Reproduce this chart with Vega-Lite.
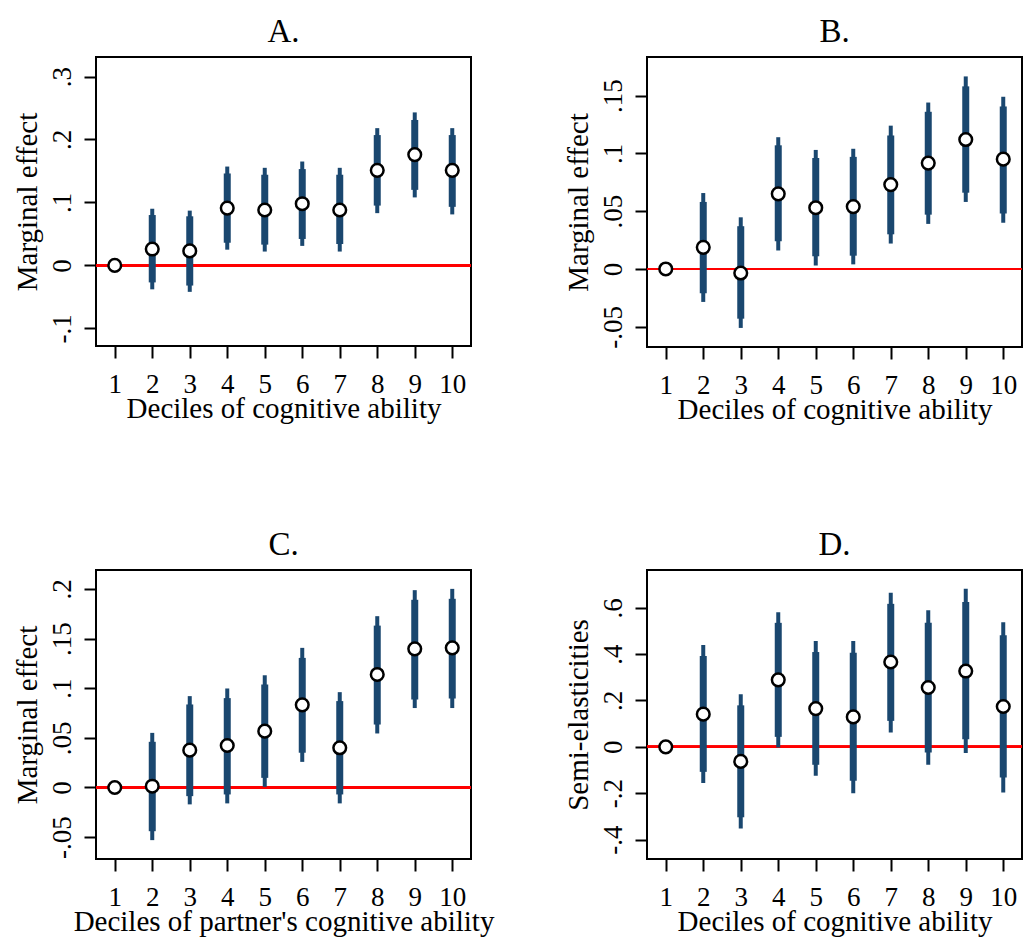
{
  "$schema": "https://vega.github.io/schema/vega-lite/v6.json",
  "background": "white",
  "padding": {"left": 12, "top": 15, "right": 0, "bottom": 0},
  "columns": 2,
  "spacing": {"row": 103, "column": 68},
  "config": {
    "font": "Liberation Serif",
    "view": {"stroke": "black", "strokeWidth": 2},
    "axis": {"grid": false, "domain": false, "tickColor": "black", "tickWidth": 2, "tickSize": 12,
      "labelFont": "Liberation Serif", "labelFontSize": 27, "labelColor": "black",
      "labelOverlap": false, "labelFlush": false,
      "titleFont": "Liberation Serif", "titleFontSize": 29, "titleFontWeight": "normal", "titleColor": "black"},
    "axisX": {"labelPadding": 13, "titlePadding": -3},
    "axisY": {"labelAngle": -90, "labelPadding": 8, "titlePadding": 6},
    "title": {"font": "Liberation Serif", "fontSize": 33, "fontWeight": "normal", "color": "black", "offset": 8}
  },
  "data": {"values": [
    {"panel": "A", "d": 1, "est": 0, "lo95": 0, "hi95": 0, "lo90": 0, "hi90": 0},
    {"panel": "A", "d": 2, "est": 0.026, "lo95": -0.038, "hi95": 0.090, "lo90": -0.027, "hi90": 0.080},
    {"panel": "A", "d": 3, "est": 0.023, "lo95": -0.042, "hi95": 0.087, "lo90": -0.032, "hi90": 0.078},
    {"panel": "A", "d": 4, "est": 0.091, "lo95": 0.025, "hi95": 0.157, "lo90": 0.036, "hi90": 0.146},
    {"panel": "A", "d": 5, "est": 0.088, "lo95": 0.022, "hi95": 0.155, "lo90": 0.033, "hi90": 0.144},
    {"panel": "A", "d": 6, "est": 0.098, "lo95": 0.031, "hi95": 0.165, "lo90": 0.042, "hi90": 0.153},
    {"panel": "A", "d": 7, "est": 0.088, "lo95": 0.022, "hi95": 0.155, "lo90": 0.034, "hi90": 0.144},
    {"panel": "A", "d": 8, "est": 0.151, "lo95": 0.083, "hi95": 0.218, "lo90": 0.095, "hi90": 0.207},
    {"panel": "A", "d": 9, "est": 0.176, "lo95": 0.108, "hi95": 0.243, "lo90": 0.120, "hi90": 0.231},
    {"panel": "A", "d": 10, "est": 0.151, "lo95": 0.081, "hi95": 0.218, "lo90": 0.093, "hi90": 0.207},
    {"panel": "B", "d": 1, "est": 0, "lo95": 0, "hi95": 0, "lo90": 0, "hi90": 0},
    {"panel": "B", "d": 2, "est": 0.0187, "lo95": -0.0285, "hi95": 0.0657, "lo90": -0.021, "hi90": 0.058},
    {"panel": "B", "d": 3, "est": -0.0035, "lo95": -0.051, "hi95": 0.0447, "lo90": -0.043, "hi90": 0.037},
    {"panel": "B", "d": 4, "est": 0.065, "lo95": 0.016, "hi95": 0.114, "lo90": 0.024, "hi90": 0.107},
    {"panel": "B", "d": 5, "est": 0.053, "lo95": 0.003, "hi95": 0.103, "lo90": 0.011, "hi90": 0.096},
    {"panel": "B", "d": 6, "est": 0.054, "lo95": 0.004, "hi95": 0.104, "lo90": 0.0115, "hi90": 0.097},
    {"panel": "B", "d": 7, "est": 0.073, "lo95": 0.022, "hi95": 0.124, "lo90": 0.030, "hi90": 0.1155},
    {"panel": "B", "d": 8, "est": 0.0916, "lo95": 0.039, "hi95": 0.144, "lo90": 0.047, "hi90": 0.136},
    {"panel": "B", "d": 9, "est": 0.112, "lo95": 0.058, "hi95": 0.1666, "lo90": 0.066, "hi90": 0.158},
    {"panel": "B", "d": 10, "est": 0.095, "lo95": 0.040, "hi95": 0.149, "lo90": 0.048, "hi90": 0.1406},
    {"panel": "C", "d": 1, "est": 0, "lo95": 0, "hi95": 0, "lo90": 0, "hi90": 0},
    {"panel": "C", "d": 2, "est": 0.0013, "lo95": -0.053, "hi95": 0.055, "lo90": -0.044, "hi90": 0.046},
    {"panel": "C", "d": 3, "est": 0.0376, "lo95": -0.017, "hi95": 0.092, "lo90": -0.0087, "hi90": 0.0836},
    {"panel": "C", "d": 4, "est": 0.0423, "lo95": -0.016, "hi95": 0.0997, "lo90": -0.007, "hi90": 0.090},
    {"panel": "C", "d": 5, "est": 0.0567, "lo95": 0.0007, "hi95": 0.113, "lo90": 0.0097, "hi90": 0.1037},
    {"panel": "C", "d": 6, "est": 0.0832, "lo95": 0.0258, "hi95": 0.1406, "lo90": 0.035, "hi90": 0.1305},
    {"panel": "C", "d": 7, "est": 0.040, "lo95": -0.016, "hi95": 0.096, "lo90": -0.007, "hi90": 0.087},
    {"panel": "C", "d": 8, "est": 0.1138, "lo95": 0.0544, "hi95": 0.1725, "lo90": 0.0634, "hi90": 0.163},
    {"panel": "C", "d": 9, "est": 0.1396, "lo95": 0.080, "hi95": 0.1987, "lo90": 0.0886, "hi90": 0.189},
    {"panel": "C", "d": 10, "est": 0.1406, "lo95": 0.080, "hi95": 0.200, "lo90": 0.0896, "hi90": 0.190},
    {"panel": "D", "d": 1, "est": 0, "lo95": 0, "hi95": 0, "lo90": 0, "hi90": 0},
    {"panel": "D", "d": 2, "est": 0.141, "lo95": -0.156, "hi95": 0.439, "lo90": -0.108, "hi90": 0.392},
    {"panel": "D", "d": 3, "est": -0.063, "lo95": -0.352, "hi95": 0.227, "lo90": -0.304, "hi90": 0.179},
    {"panel": "D", "d": 4, "est": 0.289, "lo95": -0.003, "hi95": 0.581, "lo90": 0.043, "hi90": 0.535},
    {"panel": "D", "d": 5, "est": 0.165, "lo95": -0.125, "hi95": 0.457, "lo90": -0.0775, "hi90": 0.409},
    {"panel": "D", "d": 6, "est": 0.129, "lo95": -0.2, "hi95": 0.457, "lo90": -0.146, "hi90": 0.406},
    {"panel": "D", "d": 7, "est": 0.366, "lo95": 0.062, "hi95": 0.665, "lo90": 0.112, "hi90": 0.617},
    {"panel": "D", "d": 8, "est": 0.256, "lo95": -0.0775, "hi95": 0.589, "lo90": -0.024, "hi90": 0.535},
    {"panel": "D", "d": 9, "est": 0.327, "lo95": -0.027, "hi95": 0.682, "lo90": 0.033, "hi90": 0.625},
    {"panel": "D", "d": 10, "est": 0.174, "lo95": -0.197, "hi95": 0.538, "lo90": -0.132, "hi90": 0.481}
  ]},
  "concat": [
    {
      "title": {"text": "A."},
      "width": 375, "height": 289,
      "transform": [{"filter": "datum.panel == 'A'"}],
      "layer": [
        {"mark": {"type": "rule", "color": "#ff0000", "strokeWidth": 2}, "encoding": {"y": {"datum": 0, "type": "quantitative", "title": "Marginal effect"}}},
        {"mark": {"type": "rule", "color": "#1a476f", "strokeWidth": 4},
          "encoding": {
            "x": {"field": "d", "type": "quantitative", "title": "Deciles of cognitive ability", "scale": {"domain": [0.5, 10.5], "nice": false, "zero": false}, "axis": {"values": [1,2,3,4,5,6,7,8,9,10], "format": "d"}},
            "y": {"field": "lo95", "type": "quantitative", "title": "Marginal effect", "scale": {"domain": [-0.128, 0.331], "nice": false, "zero": false}, "axis": {"values": [-0.1, 0, 0.1, 0.2, 0.3], "labelExpr": "datum.value == 0 ? '0' : (datum.value < 0 ? '-' : '') + substring(format(abs(datum.value), '.2~f'), 1)"}},
            "y2": {"field": "hi95"}}},
        {"mark": {"type": "rule", "color": "#1a476f", "strokeWidth": 7},
          "encoding": {
            "x": {"field": "d", "type": "quantitative", "title": "Deciles of cognitive ability"},
            "y": {"field": "lo90", "type": "quantitative", "title": "Marginal effect"},
            "y2": {"field": "hi90"}}},
        {"mark": {"type": "circle", "fill": "white", "stroke": "black", "strokeWidth": 2.5, "size": 160, "opacity": 1},
          "encoding": {
            "x": {"field": "d", "type": "quantitative", "title": "Deciles of cognitive ability"},
            "y": {"field": "est", "type": "quantitative", "title": "Marginal effect"}}}
      ]
    },
    {
      "title": {"text": "B."},
      "width": 375, "height": 290,
      "transform": [{"filter": "datum.panel == 'B'"}],
      "layer": [
        {"mark": {"type": "rule", "color": "#ff0000", "strokeWidth": 2}, "encoding": {"y": {"datum": 0, "type": "quantitative", "title": "Marginal effect"}}},
        {"mark": {"type": "rule", "color": "#1a476f", "strokeWidth": 4},
          "encoding": {
            "x": {"field": "d", "type": "quantitative", "title": "Deciles of cognitive ability", "scale": {"domain": [0.5, 10.5], "nice": false, "zero": false}, "axis": {"values": [1,2,3,4,5,6,7,8,9,10], "format": "d"}},
            "y": {"field": "lo95", "type": "quantitative", "title": "Marginal effect", "scale": {"domain": [-0.0675, 0.1834], "nice": false, "zero": false}, "axis": {"values": [-0.05, 0, 0.05, 0.1, 0.15], "labelExpr": "datum.value == 0 ? '0' : (datum.value < 0 ? '-' : '') + substring(format(abs(datum.value), '.2~f'), 1)"}},
            "y2": {"field": "hi95"}}},
        {"mark": {"type": "rule", "color": "#1a476f", "strokeWidth": 7},
          "encoding": {
            "x": {"field": "d", "type": "quantitative", "title": "Deciles of cognitive ability"},
            "y": {"field": "lo90", "type": "quantitative", "title": "Marginal effect"},
            "y2": {"field": "hi90"}}},
        {"mark": {"type": "circle", "fill": "white", "stroke": "black", "strokeWidth": 2.5, "size": 160, "opacity": 1},
          "encoding": {
            "x": {"field": "d", "type": "quantitative", "title": "Deciles of cognitive ability"},
            "y": {"field": "est", "type": "quantitative", "title": "Marginal effect"}}}
      ]
    },
    {
      "title": {"text": "C."},
      "width": 375, "height": 289,
      "transform": [{"filter": "datum.panel == 'C'"}],
      "layer": [
        {"mark": {"type": "rule", "color": "#ff0000", "strokeWidth": 2}, "encoding": {"y": {"datum": 0, "type": "quantitative", "title": "Marginal effect"}}},
        {"mark": {"type": "rule", "color": "#1a476f", "strokeWidth": 4},
          "encoding": {
            "x": {"field": "d", "type": "quantitative", "title": "Deciles of partner's cognitive ability", "scale": {"domain": [0.5, 10.5], "nice": false, "zero": false}, "axis": {"values": [1,2,3,4,5,6,7,8,9,10], "format": "d"}},
            "y": {"field": "lo95", "type": "quantitative", "title": "Marginal effect", "scale": {"domain": [-0.072, 0.219], "nice": false, "zero": false}, "axis": {"values": [-0.05, 0, 0.05, 0.1, 0.15, 0.2], "labelExpr": "datum.value == 0 ? '0' : (datum.value < 0 ? '-' : '') + substring(format(abs(datum.value), '.2~f'), 1)"}},
            "y2": {"field": "hi95"}}},
        {"mark": {"type": "rule", "color": "#1a476f", "strokeWidth": 7},
          "encoding": {
            "x": {"field": "d", "type": "quantitative", "title": "Deciles of partner's cognitive ability"},
            "y": {"field": "lo90", "type": "quantitative", "title": "Marginal effect"},
            "y2": {"field": "hi90"}}},
        {"mark": {"type": "circle", "fill": "white", "stroke": "black", "strokeWidth": 2.5, "size": 160, "opacity": 1},
          "encoding": {
            "x": {"field": "d", "type": "quantitative", "title": "Deciles of partner's cognitive ability"},
            "y": {"field": "est", "type": "quantitative", "title": "Marginal effect"}}}
      ]
    },
    {
      "title": {"text": "D."},
      "width": 375, "height": 289,
      "transform": [{"filter": "datum.panel == 'D'"}],
      "layer": [
        {"mark": {"type": "rule", "color": "#ff0000", "strokeWidth": 2}, "encoding": {"y": {"datum": 0, "type": "quantitative", "title": "Semi-elasticities"}}},
        {"mark": {"type": "rule", "color": "#1a476f", "strokeWidth": 4},
          "encoding": {
            "x": {"field": "d", "type": "quantitative", "title": "Deciles of cognitive ability", "scale": {"domain": [0.5, 10.5], "nice": false, "zero": false}, "axis": {"values": [1,2,3,4,5,6,7,8,9,10], "format": "d"}},
            "y": {"field": "lo95", "type": "quantitative", "title": "Semi-elasticities", "scale": {"domain": [-0.484, 0.763], "nice": false, "zero": false}, "axis": {"values": [-0.4, -0.2, 0, 0.2, 0.4, 0.6], "labelExpr": "datum.value == 0 ? '0' : (datum.value < 0 ? '-' : '') + substring(format(abs(datum.value), '.2~f'), 1)"}},
            "y2": {"field": "hi95"}}},
        {"mark": {"type": "rule", "color": "#1a476f", "strokeWidth": 7},
          "encoding": {
            "x": {"field": "d", "type": "quantitative", "title": "Deciles of cognitive ability"},
            "y": {"field": "lo90", "type": "quantitative", "title": "Semi-elasticities"},
            "y2": {"field": "hi90"}}},
        {"mark": {"type": "circle", "fill": "white", "stroke": "black", "strokeWidth": 2.5, "size": 160, "opacity": 1},
          "encoding": {
            "x": {"field": "d", "type": "quantitative", "title": "Deciles of cognitive ability"},
            "y": {"field": "est", "type": "quantitative", "title": "Semi-elasticities"}}}
      ]
    }
  ]
}
